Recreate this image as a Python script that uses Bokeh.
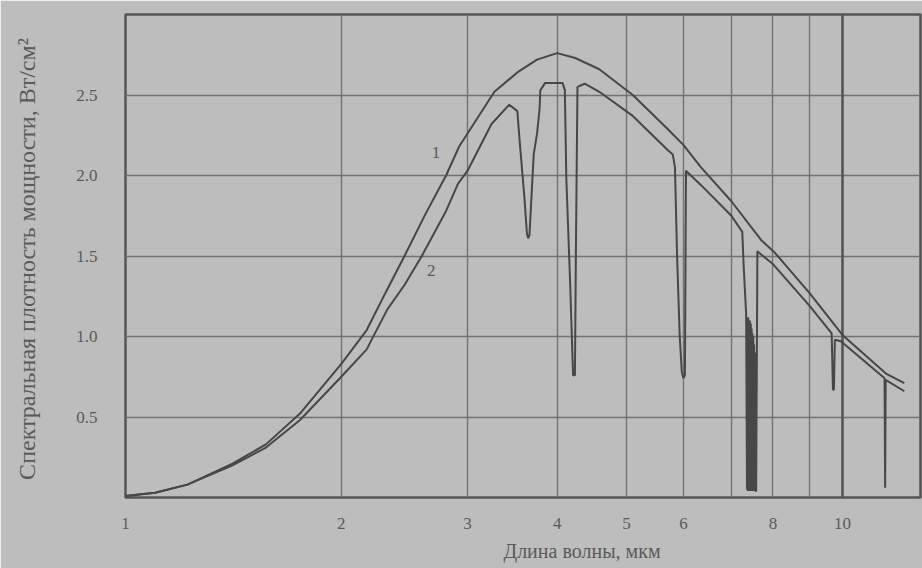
from bokeh.plotting import figure
from bokeh.models import Range1d, FixedTicker, PrintfTickFormatter, Grid, Label, Title
from bokeh.embed import file_html
from bokeh.resources import INLINE

# --- data ---
wl_1 = [1.0, 1.1, 1.22, 1.41, 1.57, 1.75, 2.0, 2.17, 2.31, 2.45, 2.62, 2.80, 2.92,
        3.27, 3.52, 3.75, 4.0, 4.24, 4.58, 5.1, 5.7, 6.0, 6.35, 7.0, 7.7, 8.05,
        9.0, 10.0, 11.5, 12.2]
p_1 = [0.01, 0.03, 0.08, 0.21, 0.33, 0.52, 0.83, 1.04, 1.28, 1.50, 1.76, 2.00, 2.18,
       2.52, 2.64, 2.72, 2.76, 2.73, 2.66, 2.50, 2.29, 2.19, 2.05, 1.84, 1.60, 1.52,
       1.27, 1.01, 0.77, 0.71]

wl_2 = [1.0, 1.1, 1.22, 1.41, 1.57, 1.75, 2.0, 2.17, 2.21, 2.32, 2.45, 2.59, 2.80,
        2.91, 3.0, 3.24, 3.43, 3.52, 3.55, 3.60, 3.63, 3.645, 3.66, 3.71, 3.75, 3.78,
        3.79, 3.85, 4.07, 4.10, 4.12, 4.17, 4.21, 4.235, 4.25, 4.27, 4.37, 4.58, 5.1,
        5.7, 5.8, 5.84, 5.88, 5.93, 5.97, 6.0, 6.03, 6.05, 6.35, 7.0, 7.25, 7.28,
        7.34, 7.36, 7.37, 7.38, 7.39, 7.40, 7.41, 7.42, 7.43, 7.44, 7.45, 7.46,
        7.47, 7.48, 7.49, 7.50, 7.51, 7.52, 7.53, 7.54, 7.55, 7.56, 7.58, 7.61,
        7.65, 8.0, 9.0, 9.66, 9.70, 9.73, 9.76, 9.95, 11.45, 11.47, 11.49, 12.2]
p_2 = [0.01, 0.03, 0.08, 0.20, 0.31, 0.48, 0.75, 0.92, 0.99, 1.17, 1.32, 1.50, 1.78,
       1.95, 2.03, 2.32, 2.44, 2.40, 2.19, 1.87, 1.64, 1.61, 1.63, 2.13, 2.26, 2.41,
       2.53, 2.575, 2.575, 2.53, 1.98, 1.34, 0.76, 0.76, 1.60, 2.55, 2.57, 2.52, 2.37,
       2.16, 2.13, 2.05, 1.50, 1.00, 0.78, 0.74, 0.76, 2.03, 1.94, 1.75, 1.65, 1.45,
       1.14, 0.05, 1.12, 0.04, 1.12, 0.04, 1.10, 0.04, 1.10, 0.04, 1.08, 0.04,
       1.05, 0.04, 1.02, 0.04, 1.00, 0.04, 0.95, 0.04, 0.90, 0.04, 0.04, 1.53,
       1.52, 1.45, 1.19, 1.02, 0.67, 0.67, 0.98, 0.97, 0.74, 0.06, 0.73, 0.66]

x_ticks = [1, 2, 3, 4, 5, 6, 8, 10]
x_grid = [2, 3, 4, 5, 6, 7, 8, 9]
y_ticks = [0.5, 1.0, 1.5, 2.0, 2.5]

curve_labels = ["1", "2"]

# --- styling ---
BG = "#bdbdbd"
INK = "#474747"
TXT = "#5a5a5a"
GRID = "#727272"
FONT = "Liberation Serif"

p = figure(width=922, height=568, x_axis_type="log",
           x_range=Range1d(1, 12.85), y_range=Range1d(0, 3.0),
           output_backend="svg", toolbar_location=None,
           min_border_left=125, min_border_right=2, min_border_top=14,
           min_border_bottom=71)
p.background_fill_color = BG
p.border_fill_color = BG
p.outline_line_color = "#555555"
p.outline_line_width = 2.5

p.xgrid.ticker = FixedTicker(ticks=x_grid)
p.xgrid.grid_line_color = GRID
p.xgrid.grid_line_width = 1.4
p.ygrid.ticker = FixedTicker(ticks=y_ticks)
p.ygrid.grid_line_color = GRID
p.ygrid.grid_line_width = 1.4

g10 = Grid(dimension=0, ticker=FixedTicker(ticks=[10]), grid_line_color="#555555",
           grid_line_width=2.6)
p.add_layout(g10)

for ax in (p.xaxis[0], p.yaxis[0]):
    ax.axis_line_color = None
    ax.major_tick_line_color = None
    ax.minor_tick_line_color = None
    ax.major_label_text_font = FONT
    ax.major_label_text_font_size = "17px"
    ax.major_label_text_color = TXT
    ax.axis_label_text_font = FONT
    ax.axis_label_text_font_style = "normal"
    ax.axis_label_text_color = TXT

p.xaxis.ticker = FixedTicker(ticks=x_ticks)
p.xaxis.formatter = PrintfTickFormatter(format="%d")
p.xaxis.major_label_standoff = 14

p.yaxis.ticker = FixedTicker(ticks=y_ticks)
p.yaxis.formatter = PrintfTickFormatter(format="%.1f")
p.yaxis.major_label_standoff = 22
p.yaxis.axis_label = "Спектральная плотность мощности,  Вт/см²"
p.yaxis.axis_label_text_font_size = "24px"
p.yaxis.axis_label_standoff = 33

p.line(wl_1, p_1, line_color=INK, line_width=2)
p.line(wl_2, p_2, line_color=INK, line_width=2)

p.add_layout(Label(x=2.71, y=2.14, text=curve_labels[0], text_font=FONT,
                   text_font_size="17px", text_color=TXT,
                   text_align="center", text_baseline="middle"))
p.add_layout(Label(x=2.67, y=1.41, text=curve_labels[1], text_font=FONT,
                   text_font_size="17px", text_color=TXT,
                   text_align="center", text_baseline="middle"))

xt = Title(text="Длина волны, мкм", align="left", offset=378, standoff=13,
           text_font=FONT, text_font_size="20px", text_font_style="normal",
           text_color=TXT)
p.add_layout(xt, "below")

open("out.html", "w").write(file_html(p, INLINE))
